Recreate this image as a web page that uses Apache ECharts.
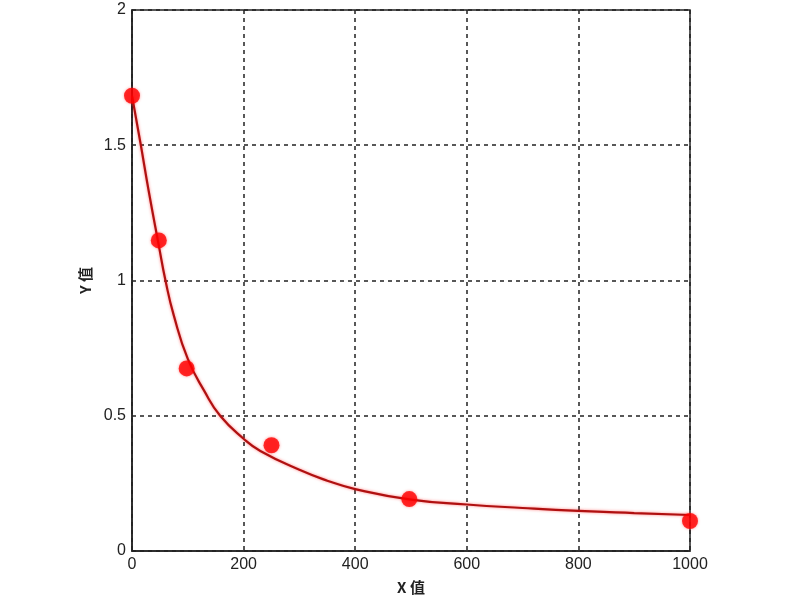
<!DOCTYPE html>
<html>
<head>
<meta charset="utf-8">
<script src="https://cdn.jsdelivr.net/npm/echarts@6/dist/echarts.min.js"></script>
<style>html,body{margin:0;padding:0;background:#fff;}#c{width:800px;height:600px;}</style>
</head>
<body>
<div id="c"></div>
<script>
// measured standard points
var pointX = [0, 48, 98, 250, 497, 1000];
var pointY = [1.683, 1.148, 0.675, 0.391, 0.192, 0.111];
// fitted curve
var curveX = [0, 15, 30, 48, 60, 75, 100, 130, 158, 200, 230, 300, 350, 400, 500, 600, 700, 800, 900, 1000];
var curveY = [1.683, 1.51, 1.33, 1.13, 1.0, 0.87, 0.71, 0.59, 0.5, 0.415, 0.37, 0.30, 0.26, 0.229, 0.19, 0.172, 0.159, 0.148, 0.14, 0.133];
var xTicks = [0, 200, 400, 600, 800, 1000];
var yTicks = [0, 0.5, 1, 1.5, 2];

function zip(a, b) { return a.map(function (v, i) { return [v, b[i]]; }); }

var chart = echarts.init(document.getElementById('c'), null, {renderer: 'canvas'});
var labelFont = {fontFamily: 'Arial, Liberation Sans, sans-serif', fontSize: 16, color: '#222'};
chart.setOption({
  backgroundColor: '#fff',
  animation: false,
  grid: {left: 132, right: 110, top: 10, bottom: 48, show: true, borderColor: '#222', borderWidth: 1.5, backgroundColor: '#fff'},
  xAxis: {
    type: 'value', min: xTicks[0], max: xTicks[xTicks.length - 1], interval: 200,
    name: 'X 值', nameLocation: 'middle', nameGap: 29,
    nameTextStyle: {fontFamily: 'Noto Sans CJK SC, sans-serif', fontSize: 15, fontWeight: 'bold', color: '#222'},
    axisLine: {show: true, lineStyle: {color: '#222', width: 1.5}},
    axisTick: {show: false},
    axisLabel: Object.assign({margin: 6, formatter: function (v) { return String(v); }}, labelFont),
    splitLine: {show: true, lineStyle: {color: '#222', type: [4, 4], width: 1.5}}
  },
  yAxis: {
    type: 'value', min: yTicks[0], max: yTicks[yTicks.length - 1], interval: 0.5,
    name: 'Y 值', nameLocation: 'middle', nameGap: 34,
    nameTextStyle: {fontFamily: 'Noto Sans CJK SC, sans-serif', fontSize: 15, fontWeight: 'bold', color: '#222'},
    axisLine: {show: true, lineStyle: {color: '#222', width: 1.5}},
    axisTick: {show: false},
    axisLabel: Object.assign({margin: 6, formatter: function (v) { return String(v); }}, labelFont),
    splitLine: {show: true, lineStyle: {color: '#222', type: [4, 4], width: 1.5}}
  },
  series: [
    {
      type: 'line', data: zip(curveX, curveY), smooth: 0.5, showSymbol: false,
      lineStyle: {color: '#b01010', width: 2.2, shadowColor: 'rgba(255,0,0,0.5)', shadowBlur: 3},
      z: 2
    },
    {
      type: 'scatter', data: zip(pointX, pointY), symbol: 'circle', symbolSize: 16,
      itemStyle: {color: '#ff0000', shadowColor: 'rgba(255,0,0,0.5)', shadowBlur: 3},
      z: 3
    }
  ]
});
</script>
</body>
</html>
